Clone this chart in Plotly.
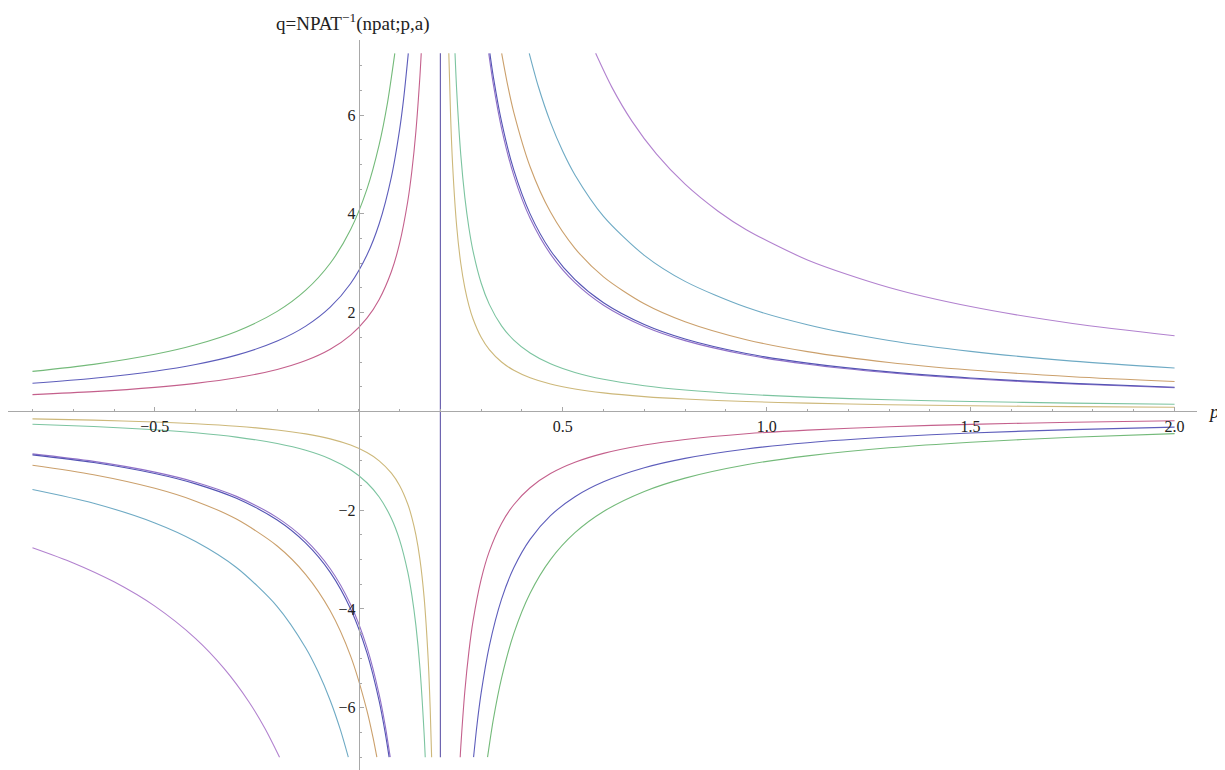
import plotly.graph_objects as go

# ---- data (p, q pairs for each curve branch) ----
vert_p = [0.2, 0.2]
vert_q = [-7.0, 7.25]

red_left_p = [-0.80, -0.65, -0.50, -0.40, -0.30, -0.20, -0.13, -0.07, -0.02, 0.02, 0.05, 0.08, 0.10, 0.12, 0.13, 0.14, 0.15, 0.1531]
red_left_q = [0.34, 0.4, 0.486, 0.567, 0.68, 0.85, 1.03, 1.259, 1.545, 1.889, 2.267, 2.833, 3.4, 4.25, 4.857, 5.667, 6.8, 7.25]
red_right_p = [0.2486, 0.25, 0.26, 0.27, 0.28, 0.30, 0.32, 0.35, 0.38, 0.42, 0.47, 0.53, 0.60, 0.70, 0.80, 0.95, 1.10, 1.30, 1.50, 1.75, 2.00]
red_right_q = [-7.0, -6.8, -5.667, -4.857, -4.25, -3.4, -2.833, -2.267, -1.889, -1.545, -1.259, -1.03, -0.85, -0.68, -0.567, -0.453, -0.378, -0.309, -0.262, -0.219, -0.189]

blue_left_p = [-0.80, -0.65, -0.50, -0.40, -0.30, -0.20, -0.13, -0.07, -0.02, 0.02, 0.05, 0.08, 0.10, 0.11, 0.1214]
blue_left_q = [0.57, 0.671, 0.814, 0.95, 1.14, 1.425, 1.727, 2.111, 2.591, 3.167, 3.8, 4.75, 5.7, 6.333, 7.25]
blue_right_p = [0.2814, 0.29, 0.30, 0.32, 0.35, 0.38, 0.42, 0.47, 0.53, 0.60, 0.70, 0.80, 0.95, 1.10, 1.30, 1.50, 1.75, 2.00]
blue_right_q = [-7.0, -6.333, -5.7, -4.75, -3.8, -3.167, -2.591, -2.111, -1.727, -1.425, -1.14, -0.95, -0.76, -0.633, -0.518, -0.438, -0.368, -0.317]

lime_left_p = [-0.80, -0.65, -0.50, -0.40, -0.30, -0.20, -0.13, -0.07, -0.02, 0.02, 0.05, 0.07, 0.0883]
lime_left_q = [0.81, 0.953, 1.157, 1.35, 1.62, 2.025, 2.455, 3.0, 3.682, 4.5, 5.4, 6.231, 7.25]
lime_right_p = [0.3157, 0.33, 0.35, 0.38, 0.42, 0.47, 0.53, 0.60, 0.70, 0.80, 0.95, 1.10, 1.30, 1.50, 1.75, 2.00]
lime_right_q = [-7.0, -6.231, -5.4, -4.5, -3.682, -3.0, -2.455, -2.025, -1.62, -1.35, -1.08, -0.9, -0.736, -0.623, -0.523, -0.45]

yellow_right_p = [0.2207, 0.225, 0.23, 0.24, 0.25, 0.26, 0.27, 0.28, 0.30, 0.32, 0.35, 0.38, 0.42, 0.47, 0.53, 0.60, 0.70, 0.80, 0.95, 1.10, 1.30, 1.50, 1.75, 2.00]
yellow_right_q = [7.25, 6.0, 5.0, 3.75, 3.0, 2.5, 2.143, 1.875, 1.5, 1.25, 1.0, 0.833, 0.682, 0.556, 0.455, 0.375, 0.3, 0.25, 0.2, 0.167, 0.136, 0.115, 0.097, 0.083]
yellow_left_p = [-0.80, -0.65, -0.50, -0.40, -0.30, -0.20, -0.13, -0.07, -0.02, 0.02, 0.05, 0.08, 0.10, 0.12, 0.13, 0.14, 0.15, 0.16, 0.17, 0.175, 0.1786]
yellow_left_q = [-0.15, -0.176, -0.214, -0.25, -0.3, -0.375, -0.455, -0.556, -0.682, -0.833, -1.0, -1.25, -1.5, -1.875, -2.143, -2.5, -3.0, -3.75, -5.0, -6.0, -7.0]

green_right_p = [0.2359, 0.24, 0.25, 0.26, 0.27, 0.28, 0.30, 0.32, 0.35, 0.38, 0.42, 0.47, 0.53, 0.60, 0.70, 0.80, 0.95, 1.10, 1.30, 1.50, 1.75, 2.00]
green_right_q = [7.25, 6.5, 5.2, 4.333, 3.714, 3.25, 2.6, 2.167, 1.733, 1.444, 1.182, 0.963, 0.788, 0.65, 0.52, 0.433, 0.347, 0.289, 0.236, 0.2, 0.168, 0.144]
green_left_p = [-0.80, -0.65, -0.50, -0.40, -0.30, -0.20, -0.13, -0.07, -0.02, 0.02, 0.05, 0.08, 0.10, 0.12, 0.13, 0.14, 0.15, 0.16, 0.1629]
green_left_q = [-0.26, -0.306, -0.371, -0.433, -0.52, -0.65, -0.788, -0.963, -1.182, -1.444, -1.733, -2.167, -2.6, -3.25, -3.714, -4.333, -5.2, -6.5, -7.0]

violet_right_p = [0.3186, 0.33, 0.35, 0.38, 0.42, 0.47, 0.53, 0.60, 0.70, 0.80, 0.95, 1.10, 1.30, 1.50, 1.75, 2.00]
violet_right_q = [7.25, 6.615, 5.733, 4.778, 3.909, 3.185, 2.606, 2.15, 1.72, 1.433, 1.147, 0.956, 0.782, 0.662, 0.555, 0.478]
violet_left_p = [-0.80, -0.65, -0.50, -0.40, -0.30, -0.20, -0.13, -0.07, -0.02, 0.02, 0.05, 0.065, 0.0771]
violet_left_q = [-0.86, -1.012, -1.229, -1.433, -1.72, -2.15, -2.606, -3.185, -3.909, -4.778, -5.733, -6.370, -7.0]

navy_right_p = [0.3214, 0.33, 0.35, 0.38, 0.42, 0.47, 0.53, 0.60, 0.70, 0.80, 0.95, 1.10, 1.30, 1.50, 1.75, 2.00]
navy_right_q = [7.25, 6.769, 5.867, 4.889, 4.0, 3.259, 2.667, 2.2, 1.76, 1.467, 1.173, 0.978, 0.8, 0.677, 0.568, 0.489]
navy_left_p = [-0.80, -0.65, -0.50, -0.40, -0.30, -0.20, -0.13, -0.07, -0.02, 0.02, 0.05, 0.065, 0.0743]
navy_left_q = [-0.88, -1.035, -1.257, -1.467, -1.76, -2.2, -2.667, -3.259, -4.0, -4.889, -5.867, -6.519, -7.0]

orange_right_p = [0.3503, 0.365, 0.38, 0.42, 0.47, 0.53, 0.60, 0.70, 0.80, 0.95, 1.10, 1.30, 1.50, 1.75, 2.00]
orange_right_q = [7.25, 6.606, 6.056, 4.955, 4.037, 3.303, 2.725, 2.18, 1.817, 1.453, 1.211, 0.991, 0.838, 0.703, 0.606]
orange_left_p = [-0.80, -0.65, -0.50, -0.40, -0.30, -0.20, -0.13, -0.07, -0.02, 0.02, 0.035, 0.0443]
orange_left_q = [-1.09, -1.282, -1.557, -1.817, -2.18, -2.725, -3.303, -4.037, -4.955, -6.056, -6.606, -7.0]

teal_right_p = [0.4179, 0.44, 0.47, 0.50, 0.53, 0.60, 0.70, 0.80, 0.95, 1.10, 1.30, 1.50, 1.75, 2.00]
teal_right_q = [7.25, 6.583, 5.852, 5.267, 4.788, 3.95, 3.16, 2.633, 2.107, 1.756, 1.436, 1.215, 1.019, 0.878]
teal_left_p = [-0.80, -0.65, -0.50, -0.40, -0.30, -0.20, -0.13, -0.10, -0.07, -0.045, -0.0257]
teal_left_q = [-1.58, -1.859, -2.257, -2.633, -3.16, -3.95, -4.788, -5.267, -5.852, -6.449, -7.0]

lilac_right_p = [0.5807, 0.62, 0.67, 0.73, 0.80, 0.88, 0.95, 1.10, 1.30, 1.50, 1.75, 2.00]
lilac_right_q = [7.25, 6.571, 5.872, 5.208, 4.6, 4.059, 3.68, 3.067, 2.509, 2.123, 1.781, 1.533]
lilac_left_p = [-0.80, -0.70, -0.60, -0.50, -0.40, -0.33, -0.27, -0.23, -0.1943]
lilac_left_q = [-2.76, -3.067, -3.45, -3.943, -4.6, -5.208, -5.872, -6.419, -7.0]

x_tick_vals = [-0.5, 0.5, 1.0, 1.5, 2.0]
x_tick_text = ["\u22120.5", "0.5", "1.0", "1.5", "2.0"]
y_tick_vals = [-6, -4, -2, 2, 4, 6]
y_tick_text = ["\u22126", "\u22124", "\u22122", "2", "4", "6"]

# ---- styles ----
C_RED = "#c4608c"
C_BLUE = "#5d5dbb"
C_LIME = "#74ba7a"
C_YELLOW = "#cdb87a"
C_GREEN = "#7cc4a0"
C_VIOLET = "#9070c8"
C_NAVY = "#5454b4"
C_ORANGE = "#cba06c"
C_TEAL = "#6eaac4"
C_LILAC = "#b282cf"
C_VERT = "#5f55a8"

curves = [
    (red_left_p, red_left_q, C_RED), (red_right_p, red_right_q, C_RED),
    (blue_left_p, blue_left_q, C_BLUE), (blue_right_p, blue_right_q, C_BLUE),
    (lime_left_p, lime_left_q, C_LIME), (lime_right_p, lime_right_q, C_LIME),
    (yellow_left_p, yellow_left_q, C_YELLOW), (yellow_right_p, yellow_right_q, C_YELLOW),
    (green_left_p, green_left_q, C_GREEN), (green_right_p, green_right_q, C_GREEN),
    (violet_left_p, violet_left_q, C_VIOLET), (violet_right_p, violet_right_q, C_VIOLET),
    (navy_left_p, navy_left_q, C_NAVY), (navy_right_p, navy_right_q, C_NAVY),
    (orange_left_p, orange_left_q, C_ORANGE), (orange_right_p, orange_right_q, C_ORANGE),
    (teal_left_p, teal_left_q, C_TEAL), (teal_right_p, teal_right_q, C_TEAL),
    (lilac_left_p, lilac_left_q, C_LILAC), (lilac_right_p, lilac_right_q, C_LILAC),
    (vert_p, vert_q, C_VERT),
]

fig = go.Figure()
for px_, qy_, col in curves:
    fig.add_trace(go.Scatter(x=px_, y=qy_, mode="lines",
                             line=dict(color=col, width=1.1, shape="spline", smoothing=0.8),
                             hoverinfo="skip", showlegend=False))

X_RANGE = [-0.86, 2.055]
Y_RANGE = [-7.26, 7.52]
x_zero_frac = (0 - X_RANGE[0]) / (X_RANGE[1] - X_RANGE[0])
y_zero_frac = (0 - Y_RANGE[0]) / (Y_RANGE[1] - Y_RANGE[0])

serif = "Liberation Serif, Times New Roman, serif"
axis_col = "#a8a8a8"
txt_col = "#222222"

fig.update_layout(
    width=1225, height=770,
    margin=dict(l=0, r=36, t=32, b=8),
    paper_bgcolor="white", plot_bgcolor="white",
    font=dict(family=serif, size=16, color=txt_col),
    xaxis=dict(range=X_RANGE, anchor="free", position=y_zero_frac,
               showline=True, linecolor=axis_col, linewidth=1,
               showgrid=False, zeroline=False,
               tickmode="array", tickvals=x_tick_vals, ticktext=x_tick_text,
               ticks="inside", ticklen=4, tickcolor=axis_col,
               minor=dict(dtick=0.1, tick0=0, ticks="inside", ticklen=2, tickcolor=axis_col, showgrid=False),
               tickfont=dict(family=serif, size=16, color=txt_col)),
    yaxis=dict(range=Y_RANGE, anchor="free", position=x_zero_frac,
               showline=True, linecolor=axis_col, linewidth=1,
               showgrid=False, zeroline=False,
               tickmode="array", tickvals=y_tick_vals, ticktext=y_tick_text,
               ticks="inside", ticklen=4, tickcolor=axis_col,
               minor=dict(dtick=0.5, tick0=0, ticks="inside", ticklen=2, tickcolor=axis_col, showgrid=False),
               tickfont=dict(family=serif, size=16, color=txt_col)),
    annotations=[
        dict(text="q=NPAT<sup>\u22121</sup>(npat;p,a)", xref="x", yref="paper",
             x=0, y=1, xanchor="right", yanchor="middle", xshift=72, yshift=18,
             showarrow=False, font=dict(family=serif, size=19, color=txt_col)),
        dict(text="<i>p</i>", xref="paper", yref="y", x=1, y=0, xanchor="left",
             yanchor="middle", xshift=9, showarrow=False,
             font=dict(family=serif, size=19, color=txt_col)),
    ],
)

fig.write_html("out.html")
